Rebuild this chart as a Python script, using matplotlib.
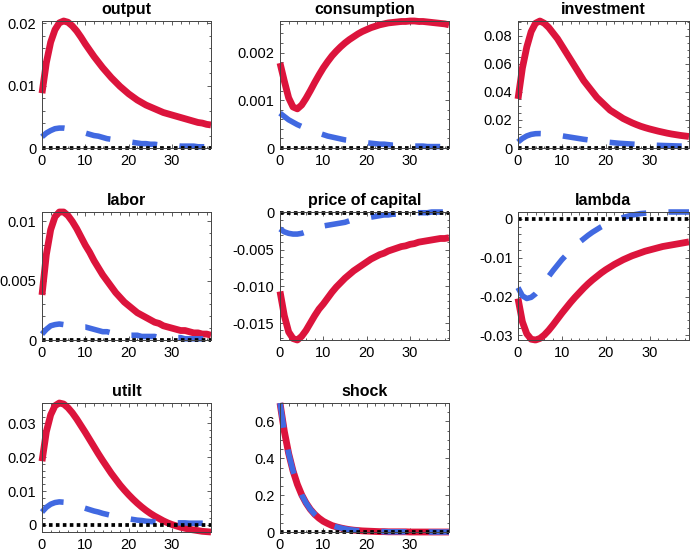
import numpy as np
import matplotlib
matplotlib.use("Agg")
import matplotlib.pyplot as plt
from matplotlib.ticker import AutoMinorLocator

plt.rcParams["font.family"] = ["Liberation Sans", "DejaVu Sans"]
plt.rcParams["lines.scale_dashes"] = False

periods = list(range(40))

titles = ["output", "consumption", "investment", "labor",
          "price of capital", "lambda", "utilt", "shock"]

output_red = [0.0088, 0.0137, 0.0170, 0.0190, 0.0201, 0.0204, 0.0202, 0.0196, 0.0188, 0.0178,
              0.0167, 0.0157, 0.0147, 0.0138, 0.0129, 0.0121, 0.0113, 0.0106, 0.0099, 0.0093,
              0.0087, 0.0082, 0.0077, 0.0073, 0.0069, 0.0066, 0.0063, 0.0060, 0.0057, 0.0055,
              0.0053, 0.0051, 0.0049, 0.0047, 0.0045, 0.0043, 0.0041, 0.0040, 0.0038, 0.0037]
output_blue = [0.0018, 0.0024, 0.0028, 0.0031, 0.0032, 0.0032, 0.0031, 0.0030, 0.0028, 0.0026,
               0.0024, 0.0022, 0.0020, 0.0019, 0.0017, 0.0015, 0.0014, 0.0013, 0.0012, 0.0011,
               0.0010, 0.0009, 0.0008, 0.0007, 0.0007, 0.0006, 0.0006, 0.0005, 0.0005, 0.0004,
               0.0004, 0.0004, 0.0003, 0.0003, 0.0003, 0.0003, 0.0002, 0.0002, 0.0002, 0.0002]

cons_red = [0.00178, 0.00140, 0.00105, 0.00086, 0.00082, 0.00090, 0.00104, 0.00120, 0.00137, 0.00153,
            0.00168, 0.00181, 0.00193, 0.00203, 0.00212, 0.00220, 0.00227, 0.00233, 0.00239, 0.00244,
            0.00248, 0.00252, 0.00255, 0.00258, 0.00260, 0.00262, 0.00263, 0.00264, 0.00265, 0.00265,
            0.00266, 0.00266, 0.00265, 0.00265, 0.00264, 0.00263, 0.00262, 0.00261, 0.00260, 0.00258]
cons_blue = [0.00073, 0.00066, 0.00059, 0.00054, 0.00049, 0.00045, 0.00041, 0.00037, 0.00034, 0.00031,
             0.00028, 0.00025, 0.00023, 0.00021, 0.00019, 0.00017, 0.00016, 0.00014, 0.00013, 0.00012,
             0.00011, 0.00010, 0.00009, 0.00008, 0.00008, 0.00007, 0.00006, 0.00006, 0.00005, 0.00005,
             0.00005, 0.00004, 0.00004, 0.00004, 0.00003, 0.00003, 0.00003, 0.00003, 0.00002, 0.00002]

inv_red = [0.035, 0.057, 0.072, 0.083, 0.089, 0.0906, 0.089, 0.086, 0.082, 0.078,
           0.073, 0.068, 0.063, 0.058, 0.053, 0.048, 0.044, 0.040, 0.036, 0.033,
           0.030, 0.027, 0.025, 0.023, 0.021, 0.0195, 0.018, 0.0167, 0.0155, 0.0145,
           0.0136, 0.0128, 0.0120, 0.0113, 0.0106, 0.0100, 0.0095, 0.0090, 0.0086, 0.0082]
inv_blue = [0.0043, 0.0068, 0.0086, 0.0097, 0.0102, 0.0103, 0.0102, 0.0099, 0.0095, 0.0091,
            0.0087, 0.0082, 0.0077, 0.0072, 0.0067, 0.0062, 0.0058, 0.0054, 0.0050, 0.0046,
            0.0043, 0.0040, 0.0037, 0.0034, 0.0032, 0.0030, 0.0028, 0.0026, 0.0024, 0.0023,
            0.0021, 0.0020, 0.0019, 0.0018, 0.0017, 0.0016, 0.0015, 0.0014, 0.0014, 0.0013]

labor_red = [0.0038, 0.0072, 0.0093, 0.0104, 0.0108, 0.0108, 0.0105, 0.0100, 0.0094, 0.0087,
             0.0080, 0.0074, 0.0067, 0.0061, 0.0055, 0.0050, 0.0045, 0.0040, 0.0036, 0.0032,
             0.0029, 0.0026, 0.0023, 0.0021, 0.0019, 0.0017, 0.0015, 0.0014, 0.0012, 0.0011,
             0.0010, 0.0009, 0.0008, 0.0008, 0.0007, 0.0006, 0.0006, 0.0005, 0.0005, 0.0004]
labor_blue = [0.0005, 0.0009, 0.0012, 0.0013, 0.00135, 0.0013, 0.0013, 0.0012, 0.0012, 0.0011,
              0.0011, 0.0010, 0.0009, 0.0008, 0.0007, 0.0007, 0.0006, 0.0006, 0.0005, 0.0005,
              0.0004, 0.0004, 0.0004, 0.0003, 0.0003, 0.0003, 0.0003, 0.0002, 0.0002, 0.0002,
              0.0002, 0.0002, 0.0002, 0.0001, 0.0001, 0.0001, 0.0001, 0.0001, 0.0001, 0.0001]

pk_red = [-0.0107, -0.0140, -0.0162, -0.0171, -0.0173, -0.0168, -0.0160, -0.0150, -0.0140, -0.0131,
          -0.0124, -0.0116, -0.0108, -0.0101, -0.0095, -0.0089, -0.0084, -0.0079, -0.0075, -0.0071,
          -0.0067, -0.0063, -0.0060, -0.0057, -0.0055, -0.0052, -0.0050, -0.0048, -0.0046, -0.0045,
          -0.0043, -0.0042, -0.0040, -0.0039, -0.0038, -0.0037, -0.0036, -0.0035, -0.0035, -0.0034]
pk_blue = [-0.0022, -0.0026, -0.0028, -0.0029, -0.0029, -0.0028, -0.0026, -0.0024, -0.0022, -0.0020,
           -0.0018, -0.0017, -0.0016, -0.0015, -0.0014, -0.0013, -0.0011, -0.0010, -0.0009, -0.0008,
           -0.0007, -0.0006, -0.0005, -0.0004, -0.0003, -0.0003, -0.0002, -0.0002, -0.0001, -0.0001,
           -0.0001, 0.0000, 0.0000, 0.0000, 0.0000, 0.0001, 0.0001, 0.0001, 0.0001, 0.0001]

lam_red = [-0.0205, -0.0265, -0.0296, -0.0310, -0.0312, -0.0308, -0.0299, -0.0287, -0.0273, -0.0258,
           -0.0243, -0.0229, -0.0215, -0.0202, -0.0190, -0.0178, -0.0167, -0.0157, -0.0148, -0.0139,
           -0.0131, -0.0124, -0.0117, -0.0111, -0.0105, -0.0100, -0.0095, -0.0091, -0.0087, -0.0083,
           -0.0080, -0.0077, -0.0074, -0.0071, -0.0069, -0.0067, -0.0065, -0.0063, -0.0061, -0.0059]
lam_blue = [-0.0177, -0.0198, -0.0205, -0.0202, -0.0193, -0.0180, -0.0164, -0.0148, -0.0133, -0.0119,
            -0.0105, -0.0093, -0.0081, -0.0070, -0.0060, -0.0051, -0.0042, -0.0034, -0.0027, -0.0020,
            -0.0014, -0.0009, -0.0004, 0.0000, 0.0004, 0.0007, 0.0010, 0.0012, 0.0014, 0.0015,
            0.0016, 0.0017, 0.0017, 0.0018, 0.0018, 0.0018, 0.0018, 0.0018, 0.0018, 0.0018]

util_red = [0.0188, 0.0275, 0.0325, 0.0352, 0.0360, 0.0357, 0.0346, 0.0331, 0.0313, 0.0293,
            0.0273, 0.0252, 0.0231, 0.0210, 0.0190, 0.0171, 0.0152, 0.0135, 0.0118, 0.0103,
            0.0089, 0.0076, 0.0064, 0.0053, 0.0043, 0.0034, 0.0026, 0.0019, 0.0012, 0.0006,
            0.0001, -0.0003, -0.0007, -0.0010, -0.0013, -0.0015, -0.0017, -0.0019, -0.0020, -0.0021]
util_blue = [0.0038, 0.0052, 0.0061, 0.0066, 0.0068, 0.0067, 0.0065, 0.0062, 0.0058, 0.0053,
             0.0049, 0.0045, 0.0041, 0.0038, 0.0034, 0.0031, 0.0028, 0.0025, 0.0022, 0.0020,
             0.0018, 0.0016, 0.0014, 0.0013, 0.0011, 0.0010, 0.0009, 0.0008, 0.0008, 0.0007,
             0.0007, 0.0006, 0.0006, 0.0006, 0.0005, 0.0005, 0.0005, 0.0005, 0.0005, 0.0005]

shock_red = [0.700, 0.546, 0.426, 0.332, 0.259, 0.202, 0.158, 0.123, 0.096, 0.075,
             0.058, 0.046, 0.035, 0.028, 0.022, 0.017, 0.013, 0.010, 0.008, 0.006,
             0.005, 0.004, 0.003, 0.002, 0.002, 0.001, 0.001, 0.001, 0.001, 0.001,
             0.000, 0.000, 0.000, 0.000, 0.000, 0.000, 0.000, 0.000, 0.000, 0.000]
shock_blue = list(shock_red)

zero_line = [0.0] * 40

red_series = [output_red, cons_red, inv_red, labor_red, pk_red, lam_red, util_red, shock_red]
blue_series = [output_blue, cons_blue, inv_blue, labor_blue, pk_blue, lam_blue, util_blue, shock_blue]

y_ticks = [
    [0, 0.01, 0.02],
    [0, 0.001, 0.002],
    [0, 0.02, 0.04, 0.06, 0.08],
    [0, 0.005, 0.01],
    [0, -0.005, -0.010, -0.015],
    [0, -0.01, -0.02, -0.03],
    [0, 0.01, 0.02, 0.03],
    [0, 0.2, 0.4, 0.6],
]
y_tick_labels = [
    ["0", "0.01", "0.02"],
    ["0", "0.001", "0.002"],
    ["0", "0.02", "0.04", "0.06", "0.08"],
    ["0", "0.005", "0.01"],
    ["0", "-0.005", "-0.010", "-0.015"],
    ["0", "-0.01", "-0.02", "-0.03"],
    ["0", "0.01", "0.02", "0.03"],
    ["0", "0.2", "0.4", "0.6"],
]
x_ticks = [0, 10, 20, 30]

W, H = 690, 551
col_px = [(42, 211), (280, 449), (518, 689)]
row_px = [(21, 148), (212, 340), (403, 532)]

red = "#DC143C"
blue = "#4169E1"

fig = plt.figure(figsize=(W / 100, H / 100), dpi=100)

for i, name in enumerate(titles):
    r, c = divmod(i, 3)
    x0, x1 = col_px[c]
    y0, y1 = row_px[r]
    ax = fig.add_axes([x0 / W, 1 - y1 / H, (x1 - x0) / W, (y1 - y0) / H])

    ax.plot(periods, red_series[i], color=red, linewidth=4.9, solid_capstyle="butt",
            solid_joinstyle="round", clip_on=False)
    ax.plot(periods, blue_series[i], color=blue, linewidth=4.0, dashes=(18.0, 16.0),
            dash_capstyle="butt", clip_on=False)
    ax.plot(periods, zero_line, color="black", linewidth=2.7, dashes=(2.6, 2.4),
            dash_capstyle="butt", clip_on=False)

    all_vals = red_series[i] + blue_series[i] + zero_line
    ax.set_xlim(0, 39)
    ax.set_ylim(min(all_vals), max(all_vals))

    ax.set_xticks(x_ticks)
    ax.set_xticklabels([str(v) for v in x_ticks])
    ax.set_yticks(y_ticks[i])
    ax.set_yticklabels(y_tick_labels[i])
    ax.xaxis.set_minor_locator(AutoMinorLocator(5))
    ax.yaxis.set_minor_locator(AutoMinorLocator())
    ax.tick_params(which="both", direction="in", top=True, right=True,
                   labelsize=10.5, width=0.6, color="#444444")
    ax.tick_params(which="major", length=3, pad=4)
    ax.tick_params(which="minor", length=1.8)
    for sp in ax.spines.values():
        sp.set_linewidth(0.7)
        sp.set_color("#444444")
    ax.set_title(name, fontsize=11.5, fontweight="bold", pad=5)

fig.savefig("out.png", dpi=100)
